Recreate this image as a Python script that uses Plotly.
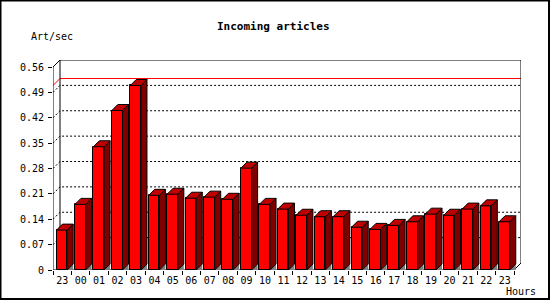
import plotly.graph_objects as go

# ---------------- data ----------------
hours = ["23", "00", "01", "02", "03", "04", "05", "06", "07", "08", "09", "10",
         "11", "12", "13", "14", "15", "16", "17", "18", "19", "20", "21", "22", "23"]
art_per_sec = [0.110, 0.181, 0.340, 0.440, 0.509, 0.206, 0.209, 0.198, 0.201,
               0.195, 0.281, 0.181, 0.168, 0.151, 0.147, 0.147, 0.118, 0.112,
               0.123, 0.133, 0.154, 0.151, 0.168, 0.177, 0.133]
y_tick_vals = [0, 0.07, 0.14, 0.21, 0.28, 0.35, 0.42, 0.49, 0.56]
y_tick_text = ["0", "0.07", "0.14", "0.21", "0.28", "0.35", "0.42", "0.49", "0.56"]
title_text = "Incoming articles"
y_title = "Art/sec"
x_title = "Hours"

# ---------------- geometry / style ----------------
W, H = 550, 300
L, R, T, B = 53, 29, 60, 30
PW, PH = W - L - R, H - T - B
N = len(hours)
YMAX = y_tick_vals[-1]
WALL_PX, BAR_PX = 7, 6
px_x = (PW - WALL_PX) / N
px_y = (PH - WALL_PX) / YMAX
dxw, dyw = WALL_PX / px_x, WALL_PX / px_y
dxb, dyb = BAR_PX / px_x, BAR_PX / px_y
BAR_OFF, BAR_W = -0.31, 0.58
FONT = "DejaVu Sans Mono"
x0, x1 = -0.5, N - 0.5

def px2paper(X, Y):
    return (X - L) / PW, (PH + T - Y) / PH

shapes = []
# dotted gridlines on the back wall (with diagonal on the side wall)
for v in y_tick_vals[1:-1]:
    shapes.append(dict(type="path", layer="below", xref="x", yref="y",
                       path=f"M{x0},{v} L{x0+dxw},{v+dyw} L{x1+dxw},{v+dyw}",
                       line=dict(color="black", width=1, dash="2px,2px")))
# red max line
vmax = max(art_per_sec)
shapes.append(dict(type="path", layer="below", xref="x", yref="y",
                   path=f"M{x0},{vmax} L{x0+dxw},{vmax+dyw} L{x1+dxw},{vmax+dyw}",
                   line=dict(color="#ff0000", width=1)))
# wall outline
shapes.append(dict(type="path", layer="below", xref="x", yref="y",
                   path=(f"M{x0+dxw},{dyw} L{x0+dxw},{YMAX+dyw} L{x1+dxw},{YMAX+dyw} "
                         f"L{x1+dxw},{dyw} L{x1},0 L{x0},0 L{x0},{YMAX} L{x0+dxw},{YMAX+dyw}"),
                   line=dict(color="black", width=1)))
# outer border
bx0, by0 = px2paper(0.5, 0.5)
bx1, by1 = px2paper(549, 299)
shapes.append(dict(type="rect", xref="paper", yref="paper", x0=bx0, y0=by0, x1=bx1, y1=by1,
                   line=dict(color="black", width=2), layer="above"))

fig = go.Figure()

# front faces
fig.add_trace(go.Bar(x=list(range(N)), y=art_per_sec, width=BAR_W, offset=BAR_OFF,
                     marker=dict(color="#ff0000", line=dict(color="black", width=1)),
                     hoverinfo="skip", showlegend=False))

# side, top faces and floor shadows
sx, sy, tx, ty, gx, gy = [], [], [], [], [], []
for i, v in enumerate(art_per_sec):
    xl = i + BAR_OFF
    xr = xl + BAR_W
    gx += [xr, xr + dxb, xr + dxb, xr, None]
    gy += [0, dyb, 0, 0, None]
    sx += [xr, xr + dxb, xr + dxb, xr, xr, None]
    sy += [0, dyb, v + dyb, v, 0, None]
    tx += [xl, xl + dxb, xr + dxb, xr, xl, None]
    ty += [v, v + dyb, v + dyb, v, v, None]

fig.add_trace(go.Scatter(x=gx, y=gy, mode="lines", fill="toself", fillcolor="#808080",
                         line=dict(width=0, color="#808080"), hoverinfo="skip", showlegend=False))
fig.add_trace(go.Scatter(x=sx, y=sy, mode="lines", fill="toself", fillcolor="#800000",
                         line=dict(width=1, color="black"), hoverinfo="skip", showlegend=False))
fig.add_trace(go.Scatter(x=tx, y=ty, mode="lines", fill="toself", fillcolor="#c00000",
                         line=dict(width=1, color="black"), hoverinfo="skip", showlegend=False))

annotations = []
ax, ay = px2paper(273.5, 26.7)
annotations.append(dict(text=f"<b>{title_text}</b>", x=ax, y=ay, xref="paper", yref="paper",
                        xanchor="center", yanchor="middle", showarrow=False,
                        font=dict(family=FONT, size=11, color="black")))
ax, ay = px2paper(29.3, 36.7)
annotations.append(dict(text=y_title, x=ax, y=ay, xref="paper", yref="paper",
                        xanchor="left", yanchor="middle", showarrow=False,
                        font=dict(family=FONT, size=10, color="black")))
ax, ay = px2paper(504.3, 291.7)
annotations.append(dict(text=x_title, x=ax, y=ay, xref="paper", yref="paper",
                        xanchor="left", yanchor="middle", showarrow=False,
                        font=dict(family=FONT, size=10, color="black")))

fig.update_layout(
    width=W, height=H, margin=dict(l=L, r=R, t=T, b=B, pad=0),
    paper_bgcolor="white", plot_bgcolor="white",
    showlegend=False, bargap=0, shapes=shapes, annotations=annotations,
    font=dict(family=FONT, size=10, color="black"),
    xaxis=dict(range=[x0, x1 + dxw], tickmode="array", tickvals=list(range(N)), ticktext=hours,
               ticks="", showgrid=False, zeroline=False, showline=False, fixedrange=True,
               ticklabelstandoff=3,
               tickfont=dict(family=FONT, size=10, color="black"),
               minor=dict(ticks="outside", ticklen=4, tickwidth=1, tickcolor="black",
                          tickmode="array", tickvals=[i - 0.5 for i in range(N + 1)],
                          showgrid=False)),
    yaxis=dict(range=[0, YMAX + dyw], tickmode="array", tickvals=y_tick_vals, ticktext=y_tick_text,
               ticks="outside", ticklen=4, tickwidth=1, tickcolor="black",
               showgrid=False, zeroline=False, showline=False, fixedrange=True,
               ticklabelstandoff=2,
               tickfont=dict(family=FONT, size=10, color="black")),
)

fig.write_html("out.html", config={"displayModeBar": False})
